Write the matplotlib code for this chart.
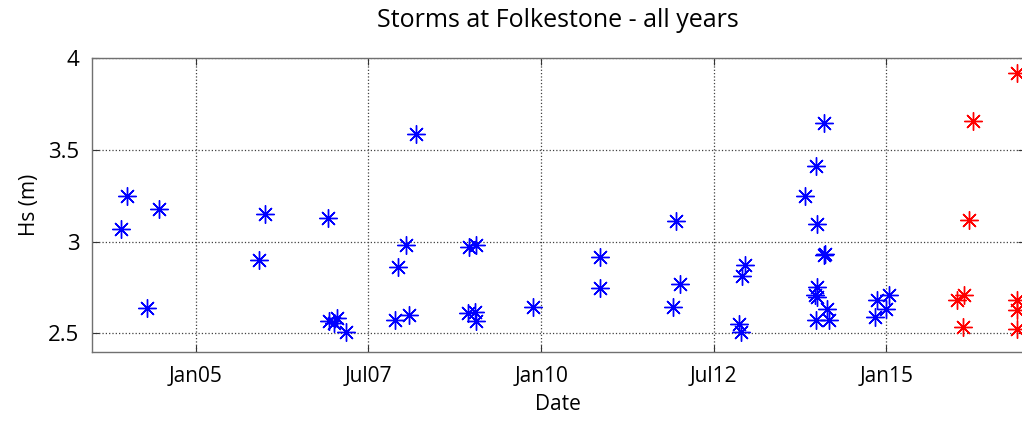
import numpy as np
import pandas as pd
import matplotlib
matplotlib.use("Agg")
import matplotlib.pyplot as plt
from matplotlib.markers import MarkerStyle

plt.rcParams['font.family'] = ['Open Sans', 'DejaVu Sans']

# storm events, earlier years (blue)
past_dates = ['2004-01-04', '2004-06-22', '2003-11-29', '2004-04-15',
              '2005-12-31', '2005-11-30', '2006-11-30', '2006-12-05',
              '2007-01-15', '2006-12-31', '2007-03-08', '2008-01-18',
              '2007-12-05', '2007-11-19', '2008-02-04', '2008-03-12',
              '2008-12-14', '2009-01-23', '2008-12-09', '2009-01-18',
              '2009-01-22', '2009-11-17', '2010-11-10', '2010-11-10',
              '2011-12-15', '2012-01-07', '2011-12-02', '2012-12-15',
              '2012-12-01', '2012-11-10', '2012-11-23', '2014-02-07',
              '2013-12-25', '2013-10-30', '2013-12-31', '2014-02-03',
              '2014-02-11', '2013-12-29', '2013-12-20', '2013-12-29',
              '2014-02-20', '2013-12-25', '2014-03-04', '2014-11-11',
              '2015-01-17', '2014-12-30', '2014-11-02']
past_hs = [3.25, 3.18, 3.07, 2.64,
           3.15, 2.90, 3.13, 2.57,
           2.585, 2.555, 2.51, 2.98,
           2.86, 2.575, 2.60, 3.585,
           2.97, 2.98, 2.61, 2.615,
           2.57, 2.645, 2.915, 2.745,
           3.11, 2.77, 2.645, 2.87,
           2.81, 2.55, 2.51, 3.645,
           3.41, 3.25, 3.095, 2.925,
           2.93, 2.755, 2.71, 2.70,
           2.635, 2.575, 2.575, 2.68,
           2.71, 2.635, 2.59]

# storm events, latest season (red)
recent_dates = ['2016-11-23', '2016-04-03', '2016-03-13', '2016-01-08',
                '2016-02-16', '2016-02-12', '2016-11-23', '2016-11-23',
                '2016-11-23']
recent_hs = [3.92, 3.655, 3.12, 2.68,
             2.71, 2.535, 2.68, 2.625,
             2.525]

tick_dates = ['2005-01-01', '2007-07-01', '2010-01-01', '2012-07-01', '2015-01-01']
tick_labels = ['Jan05', 'Jul07', 'Jan10', 'Jul12', 'Jan15']

fig = plt.figure(figsize=(10.22, 4.26), dpi=100)
ax = fig.add_axes([0.09, 0.1744, 0.9125, 0.6894])

star = MarkerStyle((8, 2, 0))
ax.plot(pd.to_datetime(past_dates), past_hs, linestyle='none', marker=star,
        markersize=13, markeredgewidth=1.0, color='#0000ff', clip_on=False)
ax.plot(pd.to_datetime(recent_dates), recent_hs, linestyle='none', marker=star,
        markersize=13, markeredgewidth=1.0, color='#ff0000', clip_on=False)

ax.set_xlim(pd.Timestamp('2003-07-01'), pd.Timestamp('2017-01-01'))
ax.set_ylim(2.4, 4.0)
ax.set_xticks(pd.to_datetime(tick_dates))
ax.set_xticklabels(tick_labels)
ax.set_yticks([2.5, 3.0, 3.5, 4.0])
ax.set_yticklabels(['2.5', '3', '3.5', '4'])

ax.grid(True, linestyle=':', color='#404040', linewidth=0.9)
ax.tick_params(direction='in', length=5, top=True, right=True, color='#333333',
               labelsize=16, pad=9)
ax.tick_params(axis='x', labelsize=15, pad=10)
for s in ax.spines.values():
    s.set_color('#707070')
    s.set_linewidth(1.0)

ax.set_xlabel('Date', fontsize=15, labelpad=5)
ax.set_ylabel('Hs (m)', fontsize=15, labelpad=6)
ax.set_title('Storms at Folkestone - all years', fontsize=18, pad=22)

fig.savefig('out.png', dpi=100)
